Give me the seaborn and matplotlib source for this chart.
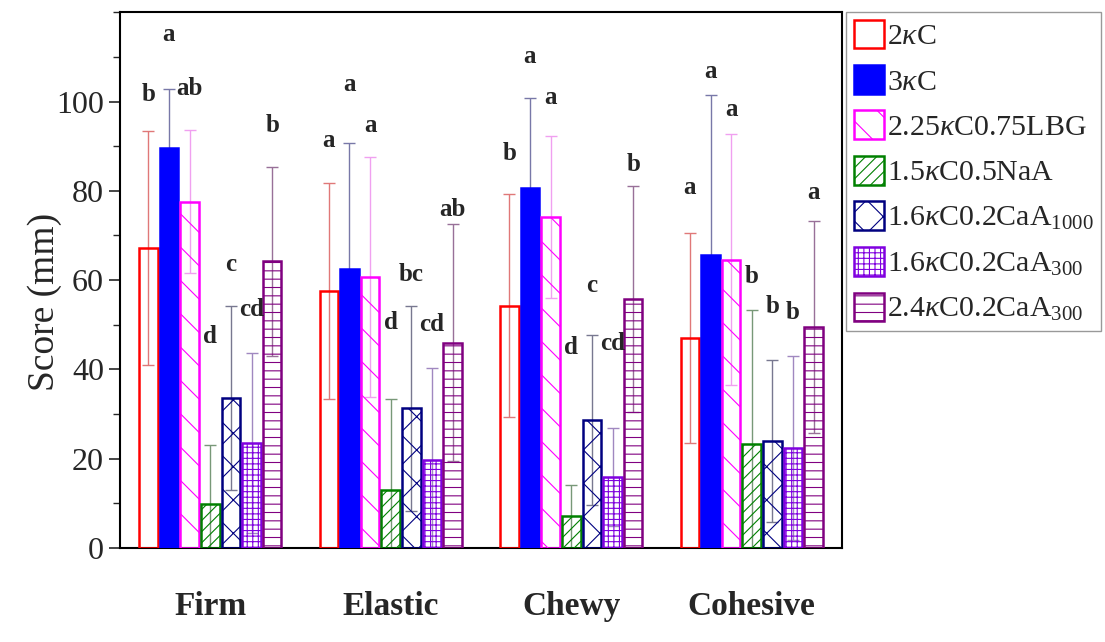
import numpy as np
import pandas as pd
import matplotlib
matplotlib.use("Agg")
import matplotlib.pyplot as plt
from matplotlib.ticker import MultipleLocator
import seaborn as sns

# Data (mean score and SD, mm)
attributes = ["Firm", "Elastic", "Chewy", "Cohesive"]
samples = ["2$\\kappa$C", "3$\\kappa$C", "2.25$\\kappa$C0.75LBG", "1.5$\\kappa$C0.5NaA",
           "1.6$\\kappa$C0.2CaA$_{1000}$", "1.6$\\kappa$C0.2CaA$_{300}$",
           "2.4$\\kappa$C0.2CaA$_{300}$"]

firm_mean = [67.2, 89.6, 77.6, 9.8, 33.5, 23.5, 64.2]
elastic_mean = [57.5, 62.5, 60.7, 12.9, 31.3, 19.6, 46.0]
chewy_mean = [54.3, 80.7, 74.2, 7.1, 28.6, 15.9, 55.7]
cohesive_mean = [47.1, 65.6, 64.6, 23.3, 24.0, 22.5, 49.5]

firm_sd = [26.2, 13.1, 16.0, 13.3, 20.6, 20.2, 21.2]
elastic_sd = [24.2, 28.3, 26.8, 20.4, 23.0, 20.8, 26.5]
chewy_sd = [24.9, 20.0, 18.1, 7.1, 19.0, 11.0, 25.3]
cohesive_sd = [23.5, 35.9, 28.1, 30.0, 18.2, 20.6, 23.7]

firm_letters = ["b", "a", "ab", "d", "c", "cd", "b"]
elastic_letters = ["a", "a", "a", "d", "bc", "cd", "ab"]
chewy_letters = ["b", "a", "a", "d", "c", "cd", "b"]
cohesive_letters = ["a", "a", "a", "b", "b", "b", "a"]

# height (in score units) where each letter sits
firm_letter_y = [101.5, 114.9, 103.0, 47.4, 63.5, 53.4, 94.6]
elastic_letter_y = [91.2, 103.8, 94.6, 50.4, 61.3, 50.0, 75.8]
chewy_letter_y = [88.3, 110.0, 100.8, 45.0, 58.8, 45.8, 86.0]
cohesive_letter_y = [80.7, 106.8, 98.3, 60.8, 54.2, 52.7, 79.6]

means = [firm_mean, elastic_mean, chewy_mean, cohesive_mean]
sds = [firm_sd, elastic_sd, chewy_sd, cohesive_sd]
letters = [firm_letters, elastic_letters, chewy_letters, cohesive_letters]
letter_y = [firm_letter_y, elastic_letter_y, chewy_letter_y, cohesive_letter_y]

# styling per sample
edge_colors = ["#ff0000", "#0000ff", "#ff00ff", "#008000", "#000080", "#8000e0", "#800080"]
fill_colors = ["none", "#0000ff", "none", "none", "none", "none", "none"]
hatches = ["", "", "\\", "///", "x", "+++", "--"]
err_colors = ["#e07878", "#7878a8", "#f0a0f0", "#789878", "#787890", "#a088c0", "#987098"]

rows = []
for a, m in zip(attributes, means):
    for s, v in zip(samples, m):
        rows.append({"attribute": a, "sample": s, "score": v})
df = pd.DataFrame(rows)

sns.set_style("ticks")
plt.rcParams["font.family"] = ["Liberation Serif", "DejaVu Serif"]
plt.rcParams["mathtext.fontset"] = "custom"
plt.rcParams["mathtext.rm"] = "Liberation Serif"
plt.rcParams["mathtext.it"] = "Liberation Serif:italic"
plt.rcParams["hatch.linewidth"] = 0.8

fig, ax = plt.subplots(figsize=(11.05, 6.42), dpi=100)
fig.subplots_adjust(left=0.1086, right=0.762, top=0.981, bottom=0.1464)

sns.barplot(data=df, x="attribute", y="score", hue="sample",
            order=attributes, hue_order=samples, palette=edge_colors,
            errorbar=None, width=0.8, gap=0.1, legend=False, ax=ax)

bar_containers = list(ax.containers)
for i, cont in enumerate(bar_containers):
    for bar in cont.patches:
        x = bar.get_x() + bar.get_width() / 2
        j = int(round(x))
        bar.set_facecolor(fill_colors[i])
        bar.set_edgecolor(edge_colors[i])
        bar.set_hatch(hatches[i])
        bar.set_linewidth(1.8)
        bar.set_zorder(3)
        ax.errorbar(x, bar.get_height(), yerr=sds[j][i], fmt="none",
                    ecolor=err_colors[i], elinewidth=1, capsize=4, capthick=1,
                    zorder=2)
        ax.text(x, letter_y[j][i], letters[j][i], ha="center", va="center",
                fontsize=18, fontweight="bold", zorder=4)

handles = [cont.patches[0] for cont in bar_containers]
leg = ax.legend(handles, samples, loc="upper left", bbox_to_anchor=(1.006, 1.0),
                frameon=True, fancybox=False, edgecolor="#808080", fontsize=21.5,
                handlelength=1.0, handleheight=1.1, labelspacing=0.5,
                handletextpad=0.1, borderpad=0.25, borderaxespad=0)
leg.get_frame().set_linewidth(1.0)

ax.set_xlim(-0.5, 3.5)
ax.set_ylim(0, 120)
ax.set_yticks([0, 20, 40, 60, 80, 100])
ax.yaxis.set_minor_locator(MultipleLocator(10))
ax.set_xlabel("")
ax.set_ylabel("Score (mm)", fontsize=27)
ax.yaxis.set_label_coords(-0.080, 0.46)
ax.tick_params(axis="y", which="major", direction="out", length=8, width=1.2,
               labelsize=23, right=False)
ax.tick_params(axis="y", which="minor", direction="out", length=5, width=1.0)
ax.tick_params(axis="x", length=0, pad=31, labelsize=24)
for lab in ax.get_xticklabels():
    lab.set_fontweight("bold")
for sp in ax.spines.values():
    sp.set_visible(True)
    sp.set_linewidth(1.5)
    sp.set_color("black")

fig.savefig("out.png", dpi=100)
